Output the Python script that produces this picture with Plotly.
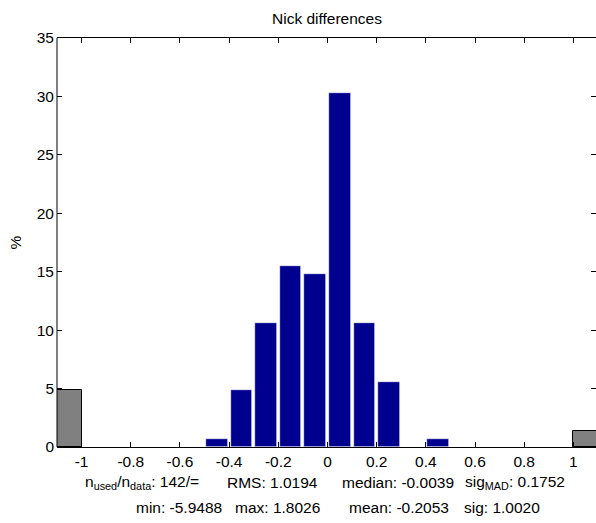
import plotly.graph_objects as go

# ---- data ----
bin_centers = [-0.45, -0.35, -0.25, -0.15, -0.05, 0.05, 0.15, 0.25, 0.35, 0.45]
bin_percent = [0.7, 4.9, 10.6, 15.5, 14.8, 30.3, 10.6, 5.6, 0.0, 0.7]
outlier_centers = [-1.05, 1.05]
outlier_percent = [4.9, 1.4]
x_tickvals = [-1, -0.8, -0.6, -0.4, -0.2, 0, 0.2, 0.4, 0.6, 0.8, 1]
x_ticktext = ["-1", "-0.8", "-0.6", "-0.4", "-0.2", "0", "0.2", "0.4", "0.6", "0.8", "1"]
y_tickvals = [0, 5, 10, 15, 20, 25, 30, 35]
stats_line1 = ["n<sub>used</sub>/n<sub>data</sub>: 142/=", "RMS: 1.0194",
               "median: -0.0039", "sig<sub>MAD</sub>: 0.1752"]
stats_line2 = ["min: -5.9488", "max: 1.8026", "mean: -0.2053", "sig: 1.0020"]
title_text = "Nick differences"
ylabel_text = "%"

# ---- layout constants (pixels) ----
W, H = 596, 523
L, R, T, B = 57, 0, 38, 75.5
PW, PH = W - L - R, H - T - B
FONT = "Liberation Sans, Arial, sans-serif"
FS = 15.5

def px_x(p):
    return (p - L) / PW

def px_y(p):
    return (H - B - p) / PH

fig = go.Figure()
fig.add_trace(go.Bar(x=bin_centers, y=bin_percent, width=0.088,
                     marker=dict(color="#00008F", line=dict(color="white", width=0.6)),
                     showlegend=False, hoverinfo="x+y"))
fig.add_trace(go.Bar(x=outlier_centers, y=outlier_percent, width=0.1,
                     marker=dict(color="#808080", line=dict(color="black", width=1)),
                     showlegend=False, hoverinfo="x+y"))

annotations = []
for txt, xp in zip(stats_line1, [83, 225, 340, 463]):
    annotations.append(dict(text=txt, xref="paper", yref="paper", x=px_x(xp), y=px_y(483),
                            xanchor="left", yanchor="middle", showarrow=False,
                            font=dict(family=FONT, size=FS, color="black")))
for txt, xp in zip(stats_line2, [134, 233, 347, 462]):
    annotations.append(dict(text=txt, xref="paper", yref="paper", x=px_x(xp), y=px_y(508),
                            xanchor="left", yanchor="middle", showarrow=False,
                            font=dict(family=FONT, size=FS, color="black")))
annotations.append(dict(text=ylabel_text, xref="paper", yref="paper", x=px_x(15), y=0.5,
                        textangle=-90, xanchor="center", yanchor="middle", showarrow=False,
                        font=dict(family=FONT, size=FS, color="black")))
annotations.append(dict(text=title_text, xref="paper", yref="paper", x=0.5, y=px_y(18),
                        xanchor="center", yanchor="middle", showarrow=False,
                        font=dict(family=FONT, size=FS, color="black")))

fig.update_layout(
    width=W, height=H,
    margin=dict(l=L, r=R, t=T, b=B, pad=0, autoexpand=False),
    paper_bgcolor="white", plot_bgcolor="white",
    bargap=0, barmode="overlay",
    font=dict(family=FONT, size=FS, color="black"),
    annotations=annotations,
    shapes=[dict(type="line", xref="paper", yref="paper", x0=0, x1=0, y0=0, y1=1,
                 line=dict(color="black", width=1), layer="above")],
    xaxis=dict(range=[-1.1, 1.092], tickvals=x_tickvals, ticktext=x_ticktext,
               ticks="inside", ticklen=5, tickwidth=1, tickcolor="black",
               showline=True, linecolor="black", linewidth=1, mirror="ticks",
               showgrid=False, zeroline=False, fixedrange=True, automargin=False),
    yaxis=dict(range=[0, 35], tickvals=y_tickvals,
               ticks="inside", ticklen=5, tickwidth=1, tickcolor="black",
               showline=False, mirror="ticks", ticklabelstandoff=2,
               showgrid=False, zeroline=False, fixedrange=True, automargin=False),
)

fig.write_html("out.html", config={"displayModeBar": False},
               post_script="document.body.style.margin='0px';document.body.style.overflow='hidden';")
